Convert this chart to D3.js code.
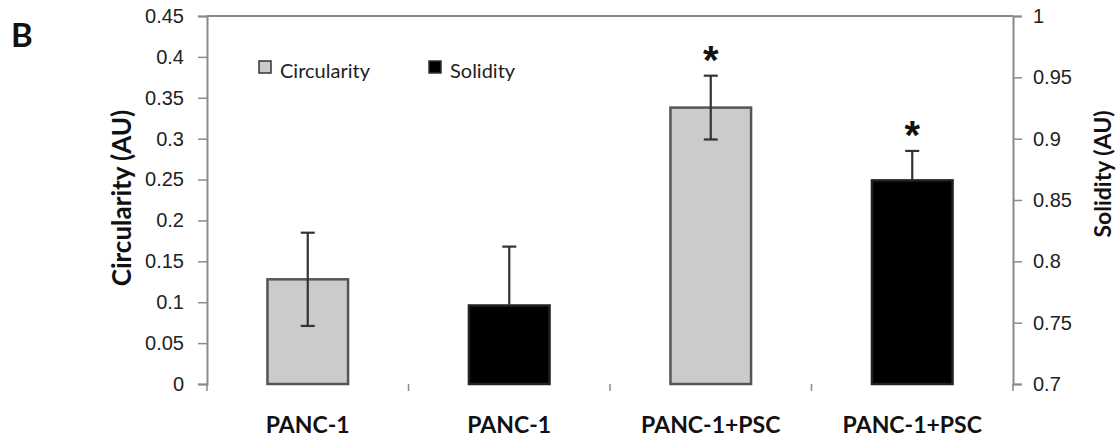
<!DOCTYPE html>
<html>
<head>
<meta charset="utf-8">
<script src="https://cdn.jsdelivr.net/npm/d3@7"></script>
<style>
  body { margin: 0; background: #fff; }
  svg { font-family: Lato, "Open Sans", sans-serif; }
</style>
</head>
<body>
<div id="chart"></div>
<script>
// bars, left to right
const categories = ["PANC-1", "PANC-1", "PANC-1+PSC", "PANC-1+PSC"];
const metrics = ["Circularity", "Solidity", "Circularity", "Solidity"];
const values = [0.128, 0.764, 0.338, 0.866];
const errors = [0.057, 0.048, 0.039, 0.024];
const stars = [false, false, true, true];

const leftTicks = [0, 0.05, 0.1, 0.15, 0.2, 0.25, 0.3, 0.35, 0.4, 0.45];
const rightTicks = [0.7, 0.75, 0.8, 0.85, 0.9, 0.95, 1];
const legendItems = ["Circularity", "Solidity"];

const fills = { Circularity: "#cbcbcb", Solidity: "#000000" };
const strokes = { Circularity: "#555", Solidity: "#222" };

const W = 1119, H = 438;
const margin = {top: 16, right: 106, bottom: 54, left: 207},
    width = W - margin.left - margin.right,
    height = H - margin.top - margin.bottom;

const svg = d3.select("#chart")
    .append("svg")
    .attr("width", W).attr("height", H)
    .append("g")
    .attr("transform", `translate(${margin.left},${margin.top})`);

const x = d3.scaleBand()
    .domain(d3.range(categories.length))
    .range([0, width])
    .paddingInner(0.6).paddingOuter(0.3);

// boundaries between categories for the tick marks
const step = width / categories.length;

const yL = d3.scaleLinear().domain([0, 0.45]).range([height, 0]);
const yR = d3.scaleLinear().domain([0.7, 1]).range([height, 0]);
const yFor = i => metrics[i] === "Circularity" ? yL : yR;

const axisColor = "#8a8a8a";

// top frame line
svg.append("line")
    .attr("x1", 0).attr("x2", width).attr("y1", 0).attr("y2", 0)
    .attr("stroke", axisColor).attr("stroke-width", 2);

// left axis
const gl = svg.append("g")
    .call(d3.axisLeft(yL).tickValues(leftTicks).tickSize(9).tickPadding(14)
        .tickFormat(d => d3.format("")(+d.toFixed(2))));
gl.select(".domain").attr("stroke", axisColor).attr("stroke-width", 2);
gl.selectAll(".tick line").attr("stroke", axisColor).attr("stroke-width", 1.5);
gl.selectAll("text").attr("font-size", 20).attr("fill", "#222");

// right axis
const gr = svg.append("g")
    .attr("transform", `translate(${width},0)`)
    .call(d3.axisRight(yR).tickValues(rightTicks).tickSize(9).tickPadding(11)
        .tickFormat(d => d3.format("")(+d.toFixed(2))));
gr.select(".domain").attr("stroke", axisColor).attr("stroke-width", 2);
gr.selectAll(".tick line").attr("stroke", axisColor).attr("stroke-width", 1.5);
gr.selectAll("text").attr("font-size", 20).attr("fill", "#222");

// bottom axis: tick marks at category edges, labels at centres
svg.append("g")
    .attr("transform", `translate(0,${height})`)
    .selectAll("line")
    .data(d3.range(categories.length + 1))
    .join("line")
    .attr("x1", d => d * step).attr("x2", d => d * step)
    .attr("y1", 0).attr("y2", 7)
    .attr("stroke", axisColor).attr("stroke-width", 1.5);

svg.append("g")
    .selectAll("text")
    .data(categories)
    .join("text")
    .attr("x", (d, i) => x(i) + x.bandwidth() / 2)
    .attr("y", height + 49)
    .attr("text-anchor", "middle")
    .attr("font-size", 23).attr("font-weight", "bold").attr("fill", "#111")
    .text(d => d);

// bars
svg.append("g")
    .selectAll("rect")
    .data(values)
    .join("rect")
    .attr("x", (d, i) => x(i))
    .attr("width", x.bandwidth())
    .attr("y", (d, i) => yFor(i)(d))
    .attr("height", (d, i) => height - yFor(i)(d))
    .attr("fill", (d, i) => fills[metrics[i]])
    .attr("stroke", (d, i) => strokes[metrics[i]])
    .attr("stroke-width", 2.5);

// error bars
const errG = svg.append("g");
values.forEach((v, i) => {
    const y = yFor(i);
    const cx = x(i) + x.bandwidth() / 2;
    const hi = y(v + errors[i]);
    const lo = metrics[i] === "Solidity" ? y(v) : y(v - errors[i]);
    errG.append("line")
        .attr("x1", cx).attr("x2", cx).attr("y1", hi).attr("y2", lo)
        .attr("stroke", "#333").attr("stroke-width", 2.2);
    errG.append("line")
        .attr("x1", cx - 7).attr("x2", cx + 7).attr("y1", hi).attr("y2", hi)
        .attr("stroke", "#333").attr("stroke-width", 2.2);
    if (metrics[i] === "Circularity") {
        errG.append("line")
            .attr("x1", cx - 7).attr("x2", cx + 7).attr("y1", lo).attr("y2", lo)
            .attr("stroke", "#333").attr("stroke-width", 2.2);
    }
    if (stars[i]) {
        errG.append("text")
            .attr("x", cx).attr("y", hi - 2)
            .attr("text-anchor", "middle")
            .attr("font-family", "'Liberation Sans', Arial, sans-serif")
            .attr("font-size", 40).attr("font-weight", "bold").attr("fill", "#111")
            .text("*");
    }
});

// legend
const legX = [52, 222];
const leg = svg.append("g");
legendItems.forEach((name, i) => {
    leg.append("rect")
        .attr("x", legX[i]).attr("y", 45)
        .attr("width", 12).attr("height", 12)
        .attr("fill", fills[name]).attr("stroke", "#333").attr("stroke-width", 1.5);
    leg.append("text")
        .attr("x", legX[i] + 21).attr("y", 62)
        .attr("font-size", 20).attr("fill", "#222")
        .text(name);
});

// axis titles
svg.append("text")
    .attr("transform", `translate(${-85},${height / 2 - 2}) rotate(-90)`)
    .attr("text-anchor", "middle").attr("dy", "0.35em")
    .attr("font-size", 26).attr("font-weight", "bold").attr("fill", "#111")
    .text("Circularity (AU)");
svg.append("text")
    .attr("transform", `translate(${width + 90},${height / 2 - 26}) rotate(-90)`)
    .attr("text-anchor", "middle").attr("dy", "0.35em")
    .attr("font-size", 23).attr("font-weight", "bold").attr("fill", "#111")
    .text("Solidity (AU)");

// panel letter
d3.select("svg").append("text")
    .attr("x", 11).attr("y", 47)
    .attr("font-size", 33).attr("font-weight", "bold").attr("fill", "#111")
    .text("B");
</script>
</body>
</html>
